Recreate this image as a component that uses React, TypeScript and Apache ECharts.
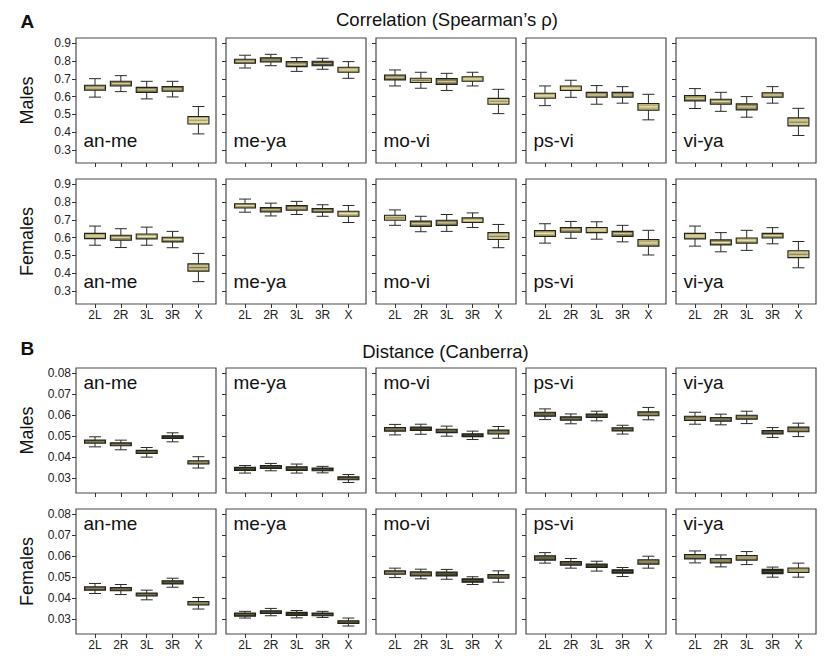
import React, { useEffect, useRef } from "react";
import * as echarts from "echarts";

// ---------- data ----------
const categories = ["2L", "2R", "3L", "3R", "X"];
const pairs = ["an-me", "me-ya", "mo-vi", "ps-vi", "vi-ya"];
const rowNames = ["Males", "Females", "Males", "Females"];
const corrTicks = [0.3, 0.4, 0.5, 0.6, 0.7, 0.8, 0.9];
const distTicks = [0.03, 0.04, 0.05, 0.06, 0.07, 0.08];

// each box: [lower whisker, Q1, median, Q3, upper whisker]
const corrMalesAnMe = [[0.597, 0.636, 0.649, 0.664, 0.701], [0.628, 0.66, 0.673, 0.686, 0.718], [0.587, 0.624, 0.638, 0.652, 0.686], [0.598, 0.63, 0.643, 0.656, 0.686], [0.39, 0.446, 0.467, 0.487, 0.544]];
const corrMalesMeYa = [[0.761, 0.7875, 0.799, 0.81, 0.833], [0.774, 0.795, 0.806, 0.819, 0.838], [0.742, 0.769, 0.782, 0.797, 0.819], [0.754, 0.774, 0.786, 0.799, 0.816], [0.703, 0.737, 0.75, 0.765, 0.797]];
const corrMalesMoVi = [[0.66, 0.694, 0.709, 0.722, 0.75], [0.647, 0.679, 0.692, 0.703, 0.737], [0.634, 0.669, 0.684, 0.701, 0.731], [0.66, 0.686, 0.699, 0.712, 0.737], [0.504, 0.557, 0.574, 0.59, 0.641]];
const corrMalesPsVi = [[0.549, 0.591, 0.604, 0.619, 0.66], [0.596, 0.634, 0.647, 0.66, 0.692], [0.557, 0.596, 0.609, 0.624, 0.662], [0.563, 0.596, 0.609, 0.624, 0.656], [0.469, 0.523, 0.542, 0.561, 0.613]];
const corrMalesViYa = [[0.533, 0.576, 0.591, 0.606, 0.645], [0.517, 0.557, 0.572, 0.585, 0.624], [0.484, 0.525, 0.542, 0.559, 0.6], [0.563, 0.596, 0.609, 0.622, 0.656], [0.381, 0.435, 0.456, 0.48, 0.534]];

const corrFemalesAnMe = [[0.557, 0.594, 0.609, 0.624, 0.665], [0.544, 0.585, 0.6, 0.613, 0.65], [0.557, 0.593, 0.606, 0.62, 0.659], [0.543, 0.576, 0.589, 0.602, 0.635], [0.352, 0.411, 0.431, 0.452, 0.511]];
const corrFemalesMeYa = [[0.743, 0.767, 0.78, 0.791, 0.817], [0.722, 0.744, 0.757, 0.769, 0.794], [0.73, 0.754, 0.767, 0.78, 0.804], [0.72, 0.743, 0.754, 0.763, 0.785], [0.685, 0.72, 0.735, 0.748, 0.781]];
const corrFemalesMoVi = [[0.669, 0.698, 0.711, 0.726, 0.756], [0.633, 0.663, 0.678, 0.693, 0.72], [0.635, 0.669, 0.683, 0.698, 0.73], [0.657, 0.685, 0.698, 0.711, 0.739], [0.543, 0.589, 0.607, 0.628, 0.674]];
const corrFemalesPsVi = [[0.569, 0.607, 0.624, 0.639, 0.678], [0.596, 0.63, 0.644, 0.657, 0.691], [0.591, 0.628, 0.643, 0.657, 0.689], [0.576, 0.607, 0.622, 0.635, 0.669], [0.502, 0.552, 0.57, 0.589, 0.641]];
const corrFemalesViYa = [[0.552, 0.593, 0.609, 0.624, 0.665], [0.52, 0.559, 0.572, 0.587, 0.628], [0.528, 0.569, 0.585, 0.598, 0.641], [0.565, 0.598, 0.611, 0.624, 0.656], [0.43, 0.487, 0.506, 0.526, 0.578]];

const distMalesAnMe = [[0.0449, 0.0467, 0.0473, 0.0481, 0.0497], [0.0435, 0.0454, 0.046, 0.0468, 0.0481], [0.04, 0.0417, 0.0425, 0.0432, 0.0446], [0.0473, 0.0489, 0.0495, 0.0502, 0.0516], [0.0348, 0.0367, 0.0375, 0.0383, 0.0402]];
const distMalesMeYa = [[0.0324, 0.0337, 0.0344, 0.0351, 0.036], [0.0335, 0.0346, 0.0354, 0.036, 0.037], [0.0324, 0.0337, 0.0346, 0.0354, 0.0367], [0.0325, 0.0335, 0.0341, 0.0348, 0.0356], [0.0279, 0.0292, 0.0298, 0.0306, 0.0317]];
const distMalesMoVi = [[0.0506, 0.0524, 0.0533, 0.0541, 0.0556], [0.0509, 0.0527, 0.0535, 0.0543, 0.0557], [0.05, 0.0517, 0.0525, 0.0533, 0.0548], [0.0484, 0.0498, 0.0505, 0.0511, 0.0524], [0.049, 0.051, 0.0519, 0.0529, 0.0546]];
const distMalesPsVi = [[0.0579, 0.0595, 0.0605, 0.0614, 0.063], [0.0559, 0.0576, 0.0584, 0.0592, 0.0606], [0.0573, 0.0589, 0.0597, 0.0605, 0.0619], [0.051, 0.0525, 0.0532, 0.054, 0.0552], [0.0578, 0.0597, 0.0606, 0.0616, 0.0637]];
const distMalesViYa = [[0.0557, 0.0575, 0.0584, 0.0595, 0.0614], [0.0554, 0.0571, 0.0581, 0.0589, 0.0605], [0.056, 0.0581, 0.059, 0.06, 0.0619], [0.0494, 0.051, 0.0519, 0.0527, 0.0541], [0.0498, 0.0521, 0.0532, 0.0543, 0.0562]];

const distFemalesAnMe = [[0.0422, 0.0438, 0.0446, 0.0454, 0.047], [0.0417, 0.0435, 0.0443, 0.0451, 0.0465], [0.0392, 0.041, 0.0417, 0.0424, 0.0438], [0.0452, 0.0468, 0.0476, 0.0483, 0.0495], [0.0348, 0.0367, 0.0376, 0.0384, 0.0403]];
const distFemalesMeYa = [[0.0305, 0.0314, 0.0322, 0.0329, 0.0337], [0.0316, 0.0327, 0.0333, 0.034, 0.0351], [0.0306, 0.0317, 0.0324, 0.0332, 0.0341], [0.0308, 0.0316, 0.0322, 0.0329, 0.0337], [0.0267, 0.0279, 0.0286, 0.0292, 0.0305]];
const distFemalesMoVi = [[0.0498, 0.0514, 0.0522, 0.053, 0.0543], [0.0492, 0.0506, 0.0516, 0.0525, 0.0538], [0.049, 0.0506, 0.0516, 0.0524, 0.0537], [0.0465, 0.0476, 0.0484, 0.0492, 0.0502], [0.0476, 0.0495, 0.0505, 0.0513, 0.053]];
const distFemalesPsVi = [[0.0567, 0.0581, 0.0592, 0.0602, 0.0617], [0.0543, 0.0557, 0.0567, 0.0575, 0.0589], [0.0529, 0.0546, 0.0554, 0.0562, 0.0576], [0.0503, 0.0519, 0.0527, 0.0535, 0.0546], [0.0543, 0.0562, 0.0573, 0.0583, 0.06]];
const distFemalesViYa = [[0.0568, 0.0587, 0.0598, 0.0608, 0.0625], [0.0549, 0.0568, 0.0578, 0.0589, 0.0606], [0.056, 0.0581, 0.0592, 0.0603, 0.0622], [0.05, 0.0517, 0.0527, 0.0537, 0.0548], [0.05, 0.0522, 0.0533, 0.0544, 0.0567]];

// ---------- styles (box darkness 0 = pale yellow, 1 = near black) ----------
const shadeCorrMales = [[0.5, 0.55, 0.55, 0.55, 0.1], [0.55, 0.7, 0.55, 0.8, 0.35], [0.55, 0.25, 0.55, 0.3, 0.15], [0.3, 0.3, 0.5, 0.55, 0.3], [0.5, 0.5, 0.5, 0.5, 0.2]];
const shadeCorrFemales = [[0.35, 0.5, 0.3, 0.5, 0.25], [0.45, 0.6, 0.55, 0.65, 0.3], [0.2, 0.55, 0.55, 0.35, 0.2], [0.3, 0.55, 0.3, 0.55, 0.35], [0.3, 0.45, 0.3, 0.5, 0.2]];
const shadeDistMales = [[0.68, 0.72, 0.78, 0.96, 0.62], [0.9, 0.9, 0.85, 0.94, 0.8], [0.7, 0.9, 0.78, 0.94, 0.65], [0.75, 0.75, 0.85, 0.75, 0.6], [0.62, 0.7, 0.58, 0.8, 0.58]];
const shadeDistFemales = [[0.7, 0.75, 0.75, 0.85, 0.6], [0.85, 0.9, 0.94, 0.9, 0.85], [0.65, 0.7, 0.85, 0.9, 0.75], [0.75, 0.8, 0.9, 0.94, 0.6], [0.58, 0.62, 0.48, 0.94, 0.42]];

const rows = [
  { data: [corrMalesAnMe, corrMalesMeYa, corrMalesMoVi, corrMalesPsVi, corrMalesViYa], shades: shadeCorrMales, kind: "corr" },
  { data: [corrFemalesAnMe, corrFemalesMeYa, corrFemalesMoVi, corrFemalesPsVi, corrFemalesViYa], shades: shadeCorrFemales, kind: "corr" },
  { data: [distMalesAnMe, distMalesMeYa, distMalesMoVi, distMalesPsVi, distMalesViYa], shades: shadeDistMales, kind: "dist" },
  { data: [distFemalesAnMe, distFemalesMeYa, distFemalesMoVi, distFemalesPsVi, distFemalesViYa], shades: shadeDistFemales, kind: "dist" },
];

// ---------- layout ----------
const FONT = "'Liberation Sans', Arial, Helvetica, sans-serif";
const frameLefts = [76, 226, 376, 526, 676];
const frameW = 140;
const frameH = 125;
const rowTops = [38, 179, 368, 509];
const yRange = { corr: [0.226, 0.93], dist: [0.0229, 0.0825] };
const xRange = [0.265, 5.68];

const stops = [
  [0, [242, 234, 168]],
  [0.5, [150, 142, 100]],
  [1, [26, 26, 20]],
] as const;
function shadeColor(s: number) {
  s = Math.max(0, Math.min(1, s));
  const [a, b] = s <= 0.5 ? [stops[0], stops[1]] : [stops[1], stops[2]];
  const t = (s - a[0]) / (b[0] - a[0]);
  const c = a[1].map((v, i) => Math.round(v + (b[1][i] - v) * t));
  return `rgb(${c[0]},${c[1]},${c[2]})`;
}

function buildOption() {
  const grid: any[] = [];
  const xAxis: any[] = [];
  const yAxis: any[] = [];
  const series: any[] = [];
  const graphic: any[] = [];

  rows.forEach((row, r) => {
    const ticks = row.kind === "corr" ? corrTicks : distTicks;
    const dec = row.kind === "corr" ? 1 : 2;
    const showX = r === 1 || r === 3;
    const isCorr = row.kind === "corr";
    row.data.forEach((panel, c) => {
      const idx = grid.length;
      grid.push({
        left: frameLefts[c],
        top: rowTops[r],
        width: frameW,
        height: frameH,
        show: true,
        borderColor: "#4a4a4a",
        borderWidth: 1.2,
        backgroundColor: "#fff",
      });
      xAxis.push({
        type: "value",
        gridIndex: idx,
        min: xRange[0],
        max: xRange[1],
        splitLine: { show: false },
        axisLine: { show: false },
        axisTick: { show: true, length: 4, customValues: [1, 2, 3, 4, 5], lineStyle: { color: "#333", width: 1 } },
        axisLabel: {
          show: showX,
          customValues: [1, 2, 3, 4, 5],
          formatter: (v: number) => categories[Math.round(v) - 1] ?? "",
          color: "#222",
          fontSize: 12,
          fontFamily: FONT,
          margin: 5,
        },
      });
      yAxis.push({
        type: "value",
        gridIndex: idx,
        min: yRange[row.kind][0],
        max: yRange[row.kind][1],
        splitLine: { show: false },
        axisLine: { show: false },
        axisTick: { show: true, length: 4, customValues: ticks, lineStyle: { color: "#333", width: 1 } },
        axisLabel: {
          show: c === 0,
          customValues: ticks,
          formatter: (v: number) => v.toFixed(dec),
          color: "#222",
          fontSize: 12,
          fontFamily: FONT,
          margin: 5,
        },
      });
      const shades = row.shades[c];
      series.push({
        type: "custom",
        xAxisIndex: idx,
        yAxisIndex: idx,
        data: panel.map((b, i) => [i + 1, ...b]),
        encode: { x: 0, y: [1, 2, 3, 4, 5] },
        renderItem: (params: any, api: any) => {
          const x = api.value(0);
          const p = (k: number) => api.coord([x, api.value(k)]);
          const lo = p(1), q1 = p(2), md = p(3), q3 = p(4), hi = p(5);
          const cx = lo[0];
          const s = shades[params.dataIndex];
          const fill = shadeColor(s);
          const med = isCorr
            ? (s >= 0.3 ? shadeColor(s - 0.45) : shadeColor(s + 0.4))
            : shadeColor(s - 0.14);
          const wStyle = { stroke: "#2a2a2a", lineWidth: 1 };
          const bw = 21, cw = 6;
          return {
            type: "group",
            children: [
              { type: "line", shape: { x1: cx, y1: lo[1], x2: cx, y2: q1[1] }, style: wStyle },
              { type: "line", shape: { x1: cx, y1: q3[1], x2: cx, y2: hi[1] }, style: wStyle },
              { type: "line", shape: { x1: cx - cw, y1: lo[1], x2: cx + cw, y2: lo[1] }, style: wStyle },
              { type: "line", shape: { x1: cx - cw, y1: hi[1], x2: cx + cw, y2: hi[1] }, style: wStyle },
              {
                type: "rect",
                shape: { x: cx - bw / 2, y: q3[1], width: bw, height: Math.max(2, q1[1] - q3[1]) },
                style: { fill, stroke: "#222219", lineWidth: 1.1 },
              },
              {
                type: "line",
                shape: { x1: cx - bw / 2 + 1.5, y1: md[1], x2: cx + bw / 2 - 1.5, y2: md[1] },
                style: { stroke: med, lineWidth: 1 },
              },
            ],
          };
        },
      });

      // panel label
      graphic.push({
        type: "text",
        x: frameLefts[c] + 7.5,
        y: isCorr ? rowTops[r] + frameH - 23 : rowTops[r] + 14,
        z: 100,
        style: {
          text: pairs[c],
          fontSize: 19,
          fontFamily: FONT,
          fill: "#111",
          textAlign: "left",
          textVerticalAlign: "middle",
        },
      });
    });

    // row label
    graphic.push({
      type: "text",
      x: 27,
      y: rowTops[r] + frameH / 2,
      rotation: Math.PI / 2,
      style: {
        text: rowNames[r],
        fontSize: 18,
        fontFamily: FONT,
        fill: "#111",
        textAlign: "center",
        textVerticalAlign: "middle",
      },
    });
  });

  const heads = [
    { letter: "A", title: "Correlation (Spearman\u2019s \u03c1)", ly: 21.5, tx: 447, ty: 19 },
    { letter: "B", title: "Distance (Canberra)", ly: 348.5, tx: 445.5, ty: 351.5 },
  ];
  heads.forEach((h) => {
    graphic.push({
      type: "text",
      x: 20.5,
      y: h.ly,
      style: { text: h.letter, fontSize: 19, fontWeight: "bold", fontFamily: FONT, fill: "#111", textAlign: "left", textVerticalAlign: "middle" },
    });
    graphic.push({
      type: "text",
      x: h.tx,
      y: h.ty,
      style: { text: h.title, fontSize: 18.5, fontFamily: FONT, fill: "#111", textAlign: "center", textVerticalAlign: "middle" },
    });
  });

  return { animation: false, backgroundColor: "#fff", grid, xAxis, yAxis, series, graphic };
}

export default function App() {
  const ref = useRef<HTMLDivElement>(null);
  useEffect(() => {
    if (!ref.current) return;
    const chart = echarts.init(ref.current, undefined, { renderer: "svg" });
    chart.setOption(buildOption() as any);
    return () => chart.dispose();
  }, []);
  return <div ref={ref} style={{ position: "fixed", left: 0, top: 0, width: 830, height: 660 }} />;
}
